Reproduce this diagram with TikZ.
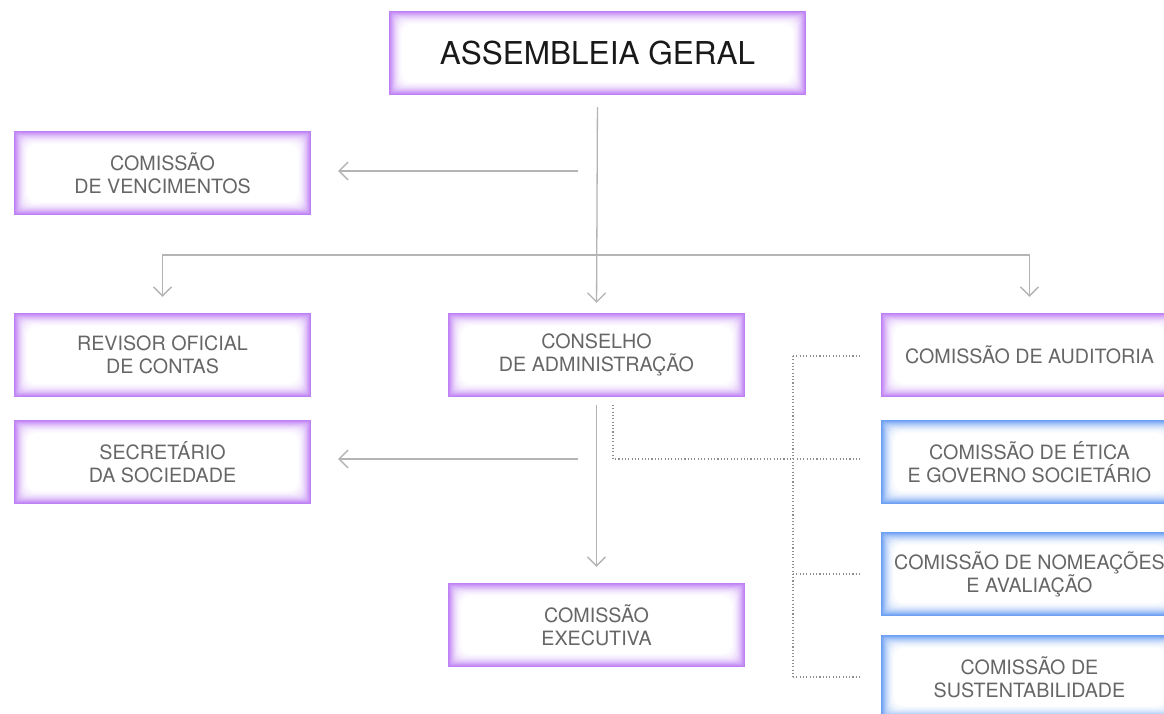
\documentclass[tikz,border=0pt]{standalone}
\usepackage{fontspec}
\setmainfont{TeX Gyre Heros}
\usetikzlibrary{arrows.meta}
\definecolor{purp}{HTML}{BE80F4}
\definecolor{blu}{HTML}{6C9FF2}
\definecolor{txt}{HTML}{666666}
\definecolor{ln}{HTML}{B4B4B4}
\definecolor{dt}{HTML}{8E8E8E}
\newcommand\glowlayers[1]{%
  \foreach \i/\p in {0/100,1/90,2/78,3/66,4/55,5/45,6/36,7/28,8/21,9/15,10/10,11/6,12/3,13/0}{%
    \fill[#1!\p!white, rounded corners=\i*0.8pt]
      ([xshift=\i pt,yshift=\i pt]path picture bounding box.south west) rectangle
      ([xshift=-\i pt,yshift=-\i pt]path picture bounding box.north east);
  }}
\tikzset{
  gbox/.style={minimum width=297pt, minimum height=84pt, inner sep=0pt,
    align=center, font=\fontsize{19.7}{23}\selectfont, text=txt,
    path picture={\glowlayers{#1}}},
  arr/.style={draw=ln, line width=1.3pt, -{Straight Barb[length=9pt,width=18pt]}},
  plain/.style={draw=ln, line width=1.3pt},
  dots/.style={draw=dt, line width=1.1pt, dash pattern=on 1.1pt off 2.2pt}
}
\begin{document}
\begin{tikzpicture}[x=1pt,y=-1pt]
\clip (0,0) rectangle (1164,714);
\fill[white] (0,0) rectangle (1164,714);
% boxes
\node[gbox=purp, minimum width=417pt, font=\fontsize{31.5}{36}\selectfont, text=black!90] (ag) at (597.5,53) {ASSEMBLEIA GERAL};
\node[gbox=purp] (venc) at (162.5,173) {COMISSÃO\\DE VENCIMENTOS};
\node[gbox=purp] (rev) at (162.5,355) {REVISOR OFICIAL\\DE CONTAS};
\node[gbox=purp] (sec) at (162.5,462) {SECRETÁRIO\\DA SOCIEDADE};
\node[gbox=purp] (cons) at (596.5,355) {CONSELHO\\DE ADMINISTRAÇÃO};
\node[gbox=purp] (exe) at (596.5,625) {COMISSÃO\\EXECUTIVA};
\node[gbox=purp] (aud) at (1029.5,355) {COMISSÃO DE AUDITORIA};
\node[gbox=blu] (etica) at (1029.5,462) {COMISSÃO DE ÉTICA\\E GOVERNO SOCIETÁRIO};
\node[gbox=blu] (nom) at (1029.5,574) {COMISSÃO DE NOMEAÇÕES\\E AVALIAÇÃO};
\node[gbox=blu] (sust) at (1029.5,677) {COMISSÃO DE\\SUSTENTABILIDADE};
% coordinates
\coordinate (v0) at (578,171);
\coordinate (br) at (597,255);
\coordinate (s0) at (578,459);
\coordinate (dstart) at (613,397);
\coordinate (dbus) at (793,356);
\coordinate (dend) at (793,677);
% solid connectors
\draw[arr, shorten <=12pt, shorten >=10pt] (ag.south) -- (cons.north);
\draw[arr, shorten >=27pt] (v0) -- (v0 -| venc.east);
\draw[plain] (br -| rev.north) -- (br -| aud.north);
\draw[arr, shorten >=16pt] (br) -| (rev.north);
\draw[arr, shorten >=16pt] (br) -| (aud.north);
\draw[arr, shorten <=8pt, shorten >=16pt] (cons.south) -- (exe.north);
\draw[arr, shorten >=27pt] (s0) -- (s0 -| sec.east);
% dotted connectors
\draw[dots, shorten <=8pt, shorten >=19pt] (dstart) |- (etica.west |- s0);
\draw[dots] (dbus) -- (dend);
\draw[dots, shorten >=19pt] (dbus) -- (dbus -| aud.west);
\draw[dots, shorten >=19pt] (dbus |- nom.west) -- (nom.west);
\draw[dots, shorten >=19pt] (dend) -- (dend -| sust.west);
\end{tikzpicture}
\end{document}
